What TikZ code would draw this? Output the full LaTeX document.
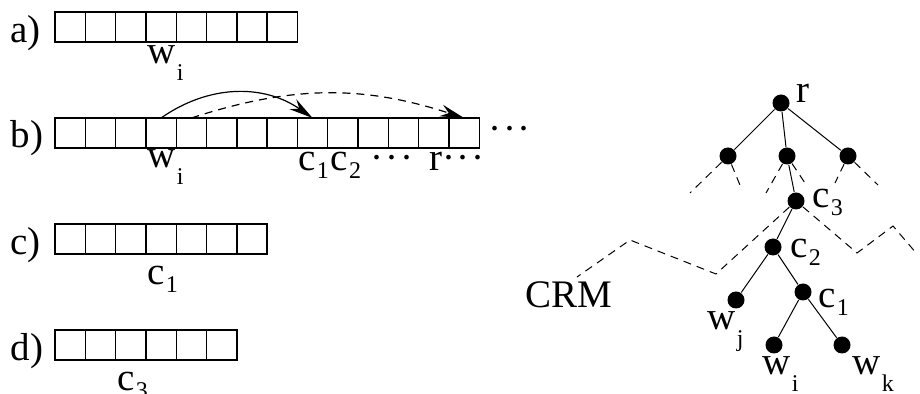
\documentclass[tikz,border=0pt]{standalone}
\usepackage{fontspec}
\setmainfont{Liberation Serif}
\usetikzlibrary{arrows.meta}
\newcommand\labfont{\fontsize{19.5pt}{23pt}\selectfont}
\newcommand\subfont{\fontsize{12pt}{14pt}\selectfont}
\newcommand\wsub[1]{\kern0.5pt\raisebox{-8.5pt}{\subfont #1}}
\newcommand\csub[1]{\kern0.5pt\raisebox{-3.75pt}{\subfont #1}}
\newcommand\mdots{·\kern0.8pt·\kern0.8pt·}
\tikzset{
  slot/.style={minimum width=15.15pt, minimum height=15pt, inner sep=0pt, outer sep=0pt},
  dot/.style={circle, fill, inner sep=0pt, minimum size=8.5pt},
  lab/.style={anchor=base west, inner sep=0pt, font=\labfont},
  cut/.style={dash pattern=on 4pt off 3pt},
  jump/.style={-{Stealth[length=12pt,width=6pt,inset=4pt]}},
}
\begin{document}
\begin{tikzpicture}[x=0.5pt, y=-0.5pt, line width=0.6pt]
      \useasboundingbox (0,0) rectangle (920,394);
      % row a
      \path
        (70.15,27) node[slot] (a0){}
        (100.45,27) node[slot] (a1){}
        (130.75,27) node[slot] (a2){}
        (161.05,27) node[slot] (a3){}
        (191.35,27) node[slot] (a4){}
        (221.65,27) node[slot] (a5){}
        (251.95,27) node[slot] (a6){}
        (282.25,27) node[slot] (a7){};
      % row b
      \path
        (70.15,133) node[slot] (b0){}
        (100.45,133) node[slot] (b1){}
        (130.75,133) node[slot] (b2){}
        (161.05,133) node[slot] (b3){}
        (191.35,133) node[slot] (b4){}
        (221.65,133) node[slot] (b5){}
        (251.95,133) node[slot] (b6){}
        (282.25,133) node[slot] (b7){}
        (312.55,133) node[slot] (b8){}
        (342.85,133) node[slot] (b9){}
        (373.15,133) node[slot] (b10){}
        (403.45,133) node[slot] (b11){}
        (433.75,133) node[slot] (b12){}
        (464.05,133) node[slot] (b13){};
      % row c
      \path
        (70.15,239) node[slot] (c0){}
        (100.45,239) node[slot] (c1){}
        (130.75,239) node[slot] (c2){}
        (161.05,239) node[slot] (c3){}
        (191.35,239) node[slot] (c4){}
        (221.65,239) node[slot] (c5){}
        (251.95,239) node[slot] (c6){};
      % row d
      \path
        (70.15,345) node[slot] (d0){}
        (100.45,345) node[slot] (d1){}
        (130.75,345) node[slot] (d2){}
        (161.05,345) node[slot] (d3){}
        (191.35,345) node[slot] (d4){}
        (221.65,345) node[slot] (d5){};
      \begin{scope}[line width=0.7pt]
        \draw (a0.north west) rectangle (a7.south east);
        \draw (b0.north west) rectangle (b13.south east);
        \draw (c0.north west) rectangle (c6.south east);
        \draw (d0.north west) rectangle (d5.south east);
        \foreach \i in {1,...,7} \draw (a\i.north west) -- (a\i.south west);
        \foreach \i in {1,...,13} \draw (b\i.north west) -- (b\i.south west);
        \foreach \i in {1,...,6} \draw (c\i.north west) -- (c\i.south west);
        \foreach \i in {1,...,5} \draw (d\i.north west) -- (d\i.south west);
      \end{scope}
      % row labels
      \node[lab] (la) at (10,43) {a)};
      \node[lab] (lb) at (10,148) {b)};
      \node[lab] (lc) at (10,255) {c)};
      \node[lab] (ld) at (10,361) {d)};
      \node[lab] (wa) at (147,64) {w\wsub{i}};
      \node[lab] (wb) at (147,168) {w\wsub{i}};
      \node[lab] (cb) at (298,171) {c\csub{1}\kern1pt c\csub{2} \mdots{} \,r\mdots};
      \node[lab] (more) at (488,142) {\mdots};
      \node[lab] (cc) at (147,285) {c\csub{1}};
      \node[lab] (cd) at (117,391) {c\csub{3}};
      % jumps
      \draw[jump] (b3.north) to[out=35,in=145] (b8.north);
      \draw[jump, cut] (b4.north) to[out=18,in=162] (b13.north);
      % tree
      \draw
        (781,103) node[dot] (r){}
        (728,156) node[dot] (n1){}
        (787,156) node[dot] (n2){}
        (848,156) node[dot] (n3){}
        (796,201) node[dot] (k3){}
        (773,247) node[dot] (k2){}
        (803,292) node[dot] (k1){}
        (736,300) node[dot] (wj){}
        (774,345) node[dot] (wi){}
        (842,345) node[dot] (wk){};
      \begin{scope}[line width=0.5pt]
        \draw (r) to (n1);
        \draw (r) to (n2);
        \draw (r) to (n3);
        \draw (n2) to (k3);
        \draw (k3) to (k2);
        \draw (k2) to (wj);
        \draw (k2) to (k1);
        \draw (k1) to (wi);
        \draw (k1) to (wk);
      \end{scope}
      \node[lab] (rl) at (796,103) {r};
      \node[lab] (k3l) at (812,208) {c\csub{3}};
      \node[lab] (k2l) at (790,258) {c\csub{2}};
      \node[lab] (k1l) at (818,308) {c\csub{1}};
      \node[lab] (wjl) at (707,330) {w\wsub{j}};
      \node[lab] (wil) at (762,375) {w\wsub{i}};
      \node[lab] (wkl) at (852,375) {w\wsub{k}};
      \node[lab] (crm) at (525,308) {CRM};
      % cuts
      \coordinate (n1a) at (690,193);
      \coordinate (n1b) at (742,190);
      \coordinate (n2a) at (766,193);
      \coordinate (n2b) at (805,183);
      \coordinate (n3a) at (835,183);
      \coordinate (n3b) at (878,185);
      \coordinate (p1) at (716,274);
      \coordinate (p2) at (630,240);
      \coordinate (p3) at (577,277);
      \coordinate (q1) at (857,253);
      \coordinate (q2) at (893,226);
      \coordinate (q3) at (917,254);
      \begin{scope}[cut, line width=0.5pt]
        \draw (n1) to (n1a);
        \draw (n1) to (n1b);
        \draw (n2) to (n2a);
        \draw (n2) to (n2b);
        \draw (n3) to (n3a);
        \draw (n3) to (n3b);
        \draw (k3) -- (p1) -- (p2) -- (p3);
        \draw (k3) -- (q1) -- (q2) -- (q3);
      \end{scope}
    \end{tikzpicture}
\end{document}
